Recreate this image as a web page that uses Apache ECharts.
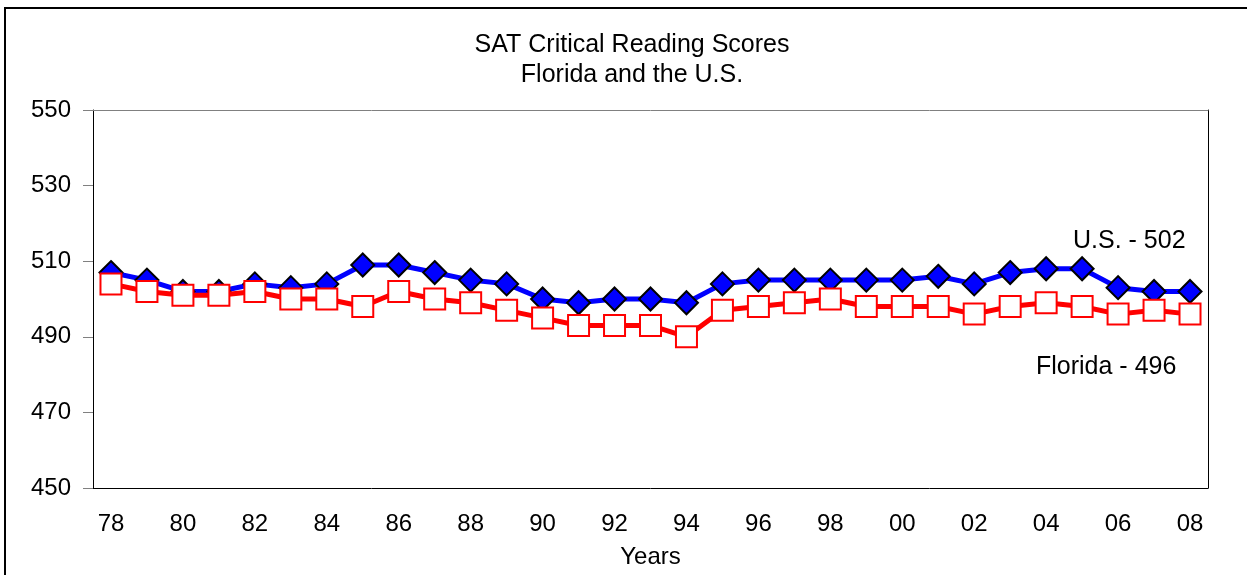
<!DOCTYPE html>
<html>
<head>
<meta charset="utf-8">
<script src="https://cdn.jsdelivr.net/npm/echarts@6/dist/echarts.min.js"></script>
<style>
html, body { margin: 0; padding: 0; background: #fff; overflow: hidden; }
#chart { width: 1247px; height: 575px; }
</style>
</head>
<body>
<div id="chart"></div>
<script>
// 年份与分数
var years = ['78','79','80','81','82','83','84','85','86','87','88','89','90','91','92','93','94',
             '95','96','97','98','99','00','01','02','03','04','05','06','07','08'];
var usScores = [507,505,502,502,504,503,504,509,509,507,505,504,500,499,500,500,499,
                504,505,505,505,505,505,506,504,507,508,508,503,502,502];
var flScores = [504,502,501,501,502,500,500,498,502,500,499,497,495,493,493,493,490,
                497,498,499,500,498,498,498,496,498,499,498,496,497,496];
var yTicks = [450, 470, 490, 510, 530, 550];

var chart = echarts.init(document.getElementById('chart'));
var font = 'Liberation Sans, Arial, sans-serif';

var option = {
    animation: false,
    backgroundColor: '#fff',
    title: {
        text: 'SAT Critical Reading Scores\nFlorida and the U.S.',
        left: 627,
        top: 25,
        textAlign: 'center',
        textStyle: {
            fontFamily: font,
            fontSize: 25,
            fontWeight: 'normal',
            color: '#000',
            lineHeight: 30
        }
    },
    grid: {
        left: 93,
        top: 110,
        width: 1115,
        height: 378,
        containLabel: false,
        outerBoundsMode: 'none'
    },
    xAxis: [{
        type: 'category',
        data: years,
        boundaryGap: true,
        name: 'Years',
        nameLocation: 'middle',
        nameGap: 57,
        nameTextStyle: { fontFamily: font, fontSize: 24, color: '#000' },
        axisLine: { lineStyle: { color: '#000', width: 1 } },
        axisTick: { show: false },
        axisLabel: {
            interval: 1,
            margin: 24,
            fontFamily: font,
            fontSize: 24,
            color: '#000'
        },
        splitLine: { show: false }
    }, {
        type: 'category',
        data: years,
        position: 'top',
        axisLine: { lineStyle: { color: '#808080', width: 1 } },
        axisTick: { show: false },
        axisLabel: { show: false }
    }],
    yAxis: [{
        type: 'value',
        min: yTicks[0],
        max: yTicks[yTicks.length - 1],
        interval: 20,
        axisLine: { show: true, lineStyle: { color: '#000', width: 1 } },
        axisTick: { show: true, length: 10, lineStyle: { color: '#808080' } },
        axisLabel: {
            margin: 22,
            fontFamily: font,
            fontSize: 24,
            color: '#000'
        },
        splitLine: { show: false }
    }, {
        type: 'value',
        position: 'right',
        min: yTicks[0],
        max: yTicks[yTicks.length - 1],
        interval: 20,
        axisLine: { show: true, lineStyle: { color: '#000', width: 1 } },
        axisTick: { show: false },
        axisLabel: { show: false },
        splitLine: { show: false }
    }],
    series: [{
        name: 'U.S.',
        type: 'line',
        data: usScores,
        symbol: 'diamond',
        symbolSize: 23,
        lineStyle: { color: '#0000ff', width: 5 },
        itemStyle: { color: '#0000ff', borderColor: '#000', borderWidth: 2 },
        z: 2
    }, {
        name: 'Florida',
        type: 'line',
        data: flScores,
        symbol: 'rect',
        symbolSize: 21,
        lineStyle: { color: '#ff0000', width: 5 },
        itemStyle: { color: '#fff', borderColor: '#ff0000', borderWidth: 2 },
        z: 3
    }],
    graphic: [{
        type: 'rect',
        shape: { x: 5, y: 8, width: 1400, height: 700 },
        style: { fill: 'none', stroke: '#000', lineWidth: 2 },
        silent: true
    }, {
        type: 'text',
        left: 1073,
        top: 229,
        style: { text: 'U.S. - 502', font: '25px ' + font, fill: '#000' }
    }, {
        type: 'text',
        left: 1036,
        top: 355,
        style: { text: 'Florida - 496', font: '25px ' + font, fill: '#000' }
    }]
};

chart.setOption(option);
</script>
</body>
</html>
